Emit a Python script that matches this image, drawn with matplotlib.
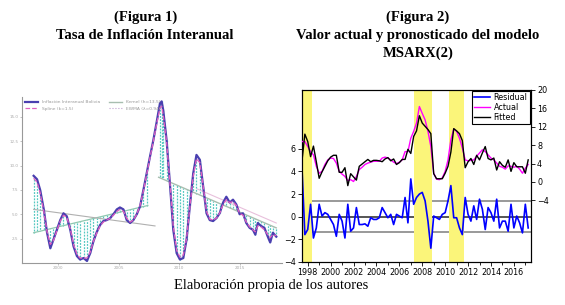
import numpy as np
import matplotlib.pyplot as plt

# ---- Figura 1: inflacion interanual (left panel) ----
yrs1 = [1997.96, 1998.24, 1998.5, 1998.8, 1999.07, 1999.34, 1999.6, 1999.88, 2000.16, 2000.43,
        2000.7, 2000.99, 2001.26, 2001.54, 2001.8, 2002.09, 2002.37, 2002.64, 2002.9, 2003.19,
        2003.46, 2003.73, 2004.0, 2004.29, 2004.56, 2004.84, 2005.1, 2005.39, 2005.66, 2005.94,
        2006.21, 2006.49, 2006.76, 2007.04, 2007.31, 2007.58, 2007.86, 2008.14, 2008.41, 2008.55,
        2008.68, 2008.96, 2009.23, 2009.51, 2009.79, 2010.06, 2010.34, 2010.61, 2010.88, 2011.16,
        2011.43, 2011.71, 2011.98, 2012.26, 2012.53, 2012.8, 2013.08, 2013.35, 2013.63, 2013.9,
        2014.18, 2014.45, 2014.73, 2015.0, 2015.28, 2015.55, 2015.83, 2016.1, 2016.3, 2016.5,
        2016.77, 2017.05, 2017.33, 2017.53, 2017.75, 2018.03]
inflacion = [8.95, 8.6, 7.5, 5.5, 3.1, 1.5, 2.4, 3.4, 4.4, 5.1, 4.8, 3.4, 1.7, 0.7, 0.35, 0.5, 0.2,
             1.0, 2.2, 3.2, 3.9, 4.3, 4.4, 4.6, 5.0, 5.5, 5.7, 5.5, 4.4, 4.1, 4.4, 5.0, 5.8, 7.5,
             9.2, 10.9, 12.6, 14.5, 16.4, 16.6, 15.7, 12.6, 8.2, 3.4, 1.0, 0.35, 0.5, 2.4, 5.8, 9.2,
             11.1, 10.6, 7.9, 5.1, 4.4, 4.3, 4.6, 5.1, 6.2, 6.8, 6.2, 6.5, 6.0, 5.0, 5.1, 4.1, 3.6,
             3.4, 2.9, 4.1, 3.8, 3.6, 2.7, 2.1, 3.1, 2.7]
spline = [8.7, 8.3, 7.2, 5.3, 3.2, 1.9, 2.3, 3.3, 4.3, 4.9, 4.7, 3.5, 1.9, 0.9, 0.5, 0.5, 0.5, 1.1,
          2.2, 3.1, 3.8, 4.2, 4.4, 4.6, 4.9, 5.3, 5.5, 5.3, 4.6, 4.2, 4.4, 5.0, 5.9, 7.4, 9.1, 10.8,
          12.5, 14.3, 15.9, 16.1, 15.2, 12.4, 8.3, 3.8, 1.3, 0.6, 0.8, 2.5, 5.7, 8.9, 10.7, 10.3,
          7.9, 5.3, 4.5, 4.4, 4.6, 5.1, 6.0, 6.5, 6.2, 6.3, 5.9, 5.1, 4.9, 4.2, 3.7, 3.4, 3.2, 3.8,
          3.7, 3.4, 2.9, 2.6, 2.9, 2.8]
# tramos de tendencia lineal
tend1_x, tend1_y = [1997.96, 2007.4], [3.1, 5.9]
tend2_x, tend2_y = [1997.96, 2008.0], [5.5, 3.8]
tend3_x, tend3_y = [2008.3, 2018.03], [8.8, 3.6]
tend4_x, tend4_y = [2011.5, 2018.03], [7.6, 4.1]
ticks1_x = [2000, 2005, 2010, 2015]
ticks1_y = [2.5, 5.0, 7.5, 10.0, 12.5, 15.0]

# ---- Figura 2: MSARX(2) actual / fitted / residual (right panel) ----
t0 = 1997.5
actual = [8.8, 8.8, 7.7, 6.6, 5.9, 3.4, 1.9, 2.3, 3.8, 4.8, 5.2, 5.1, 4.1, 2.3, 1.7, 1.2, 0.3, 0.5,
          0.1, 1.2, 2.7, 3.2, 3.8, 4.1, 4.3, 4.5, 4.5, 4.5, 5.2, 5.4, 5.2, 4.8, 4.3, 4.0, 4.3, 4.8,
          6.6, 6.6, 9.5, 11.0, 12.8, 16.4, 14.9, 13.5, 11.0, 7.7, 1.9, 0.6, 0.5, 0.9, 2.3, 4.8, 9.2,
          11.5, 11.0, 9.5, 7.4, 4.8, 4.6, 4.7, 4.8, 5.6, 6.3, 7.0, 6.6, 5.9, 5.2, 4.8, 4.1, 3.4,
          3.2, 2.8, 3.5, 3.4, 3.2, 3.4, 2.8, 1.9, 3.0, 3.8]
fitted = [4.6, 10.4, 8.8, 5.5, 7.8, 4.4, 0.8, 2.2, 3.4, 4.6, 5.4, 5.8, 5.8, 2.1, 2.1, 3.1, -0.8, 1.8,
          1.1, 0.4, 3.4, 3.9, 4.4, 4.9, 4.4, 4.7, 4.7, 4.6, 4.4, 5.0, 5.3, 4.6, 5.0, 3.8, 4.2, 4.9,
          4.9, 7.1, 6.2, 9.9, 11.1, 14.4, 12.8, 12.1, 11.4, 10.5, 1.8, 0.7, 0.7, 0.7, 1.9, 3.4, 6.5,
          11.6, 11.1, 10.5, 9.0, 3.1, 4.4, 5.1, 3.8, 5.8, 4.8, 6.3, 7.7, 5.1, 4.8, 5.2, 2.6, 4.4,
          3.6, 3.2, 4.8, 2.3, 4.2, 3.3, 3.3, 3.3, 1.9, 4.8]
residual = [4.24, -1.58, -1.13, 1.10, -1.88, -0.99, 1.10, 0.06, 0.36, 0.21, -0.24, -0.69, -1.73,
            0.21, -0.39, -1.88, 1.10, -1.28, -0.99, 0.81, -0.69, -0.69, -0.63, -0.84, -0.09, -0.24,
            -0.24, -0.09, 0.81, 0.36, -0.09, 0.21, -0.69, 0.21, 0.06, -0.09, 1.70, -0.54, 3.34, 1.10,
            1.70, 2.00, 2.15, 1.40, -0.40, -2.78, 0.06, -0.09, -0.24, 0.21, 0.36, 1.40, 2.75, -0.09,
            -0.09, -0.99, -1.58, 1.70, 0.21, -0.39, 0.96, -0.24, 1.55, 0.66, -1.13, 0.81, 0.36,
            -0.39, 1.55, -0.99, -0.39, -0.39, -1.28, 1.10, -0.99, 0.06, -0.54, -1.43, 1.10, -0.99]
recesion_ini = [1997.5, 2007.3, 2010.35]
recesion_fin = [1998.37, 2008.87, 2011.63]
banda = 1.35

fig = plt.figure(figsize=(5.65, 3.05), dpi=100)
serif = 'Liberation Serif'
tsize = 10.5

fig.text(0.257, 0.942, '(Figura 1)', ha='center', va='center', family=serif, weight='bold', fontsize=tsize)
fig.text(0.257, 0.882, 'Tasa de Inflación Interanual', ha='center', va='center', family=serif,
         weight='bold', fontsize=tsize)
fig.text(0.74, 0.942, '(Figura 2)', ha='center', va='center', family=serif, weight='bold', fontsize=tsize)
fig.text(0.74, 0.882, 'Valor actual y pronosticado del modelo', ha='center', va='center',
         family=serif, weight='bold', fontsize=tsize)
fig.text(0.74, 0.826, 'MSARX(2)', ha='center', va='center', family=serif, weight='bold', fontsize=tsize)
fig.text(0.48, 0.065, 'Elaboración propia de los autores', ha='center', va='center', family=serif,
         fontsize=tsize)

# ---------------- left panel ----------------
ax1 = fig.add_axes([0.039, 0.138, 0.46, 0.544])
x1 = np.array(yrs1)
y1 = np.array(inflacion)
base = np.where(x1 <= 2008.0, np.interp(x1, tend1_x, tend1_y), np.interp(x1, tend3_x, tend3_y))
base = np.where((x1 > 2007.4) & (x1 < 2008.3), y1, base)
ax1.vlines(x1, y1, base, colors='#55c8c0', lw=0.9, linestyles=(0, (1.5, 1)))
ax1.plot(tend1_x, tend1_y, color='#8fc8b0', lw=0.9)
ax1.plot(tend2_x, tend2_y, color='#b0b0b0', lw=0.8)
ax1.plot(tend4_x, tend4_y, color='#e8c0dc', lw=0.8)
ax1.plot(tend3_x, tend3_y, color='#a8beb0', lw=1.0, label='Kernel (h=13.5)')
ax1.plot(x1, y1, color='#4a3fb0', lw=1.6, label='Inflación Interanual Bolivia')
ax1.plot(x1, spline, color='#e060c0', lw=0.9, ls='--', label='Spline (k=1.5)')
ax1.plot([], [], color='#c0a0d0', lw=0.8, ls=':', label='EWMA (λ=0.94)')
h, l = ax1.get_legend_handles_labels()
order = [1, 2, 0, 3]
ax1.legend([h[i] for i in order], [l[i] for i in order], loc='upper left', ncol=2, frameon=False,
           fontsize=3.2, handlelength=3, borderaxespad=0.3, columnspacing=2, labelcolor='#999999')
ax1.set_xlim(1997.0, 2018.5)
ax1.set_ylim(0, 17.05)
ax1.set_xticks(ticks1_x)
ax1.set_yticks(ticks1_y)
ax1.tick_params(labelsize=3, colors='#aaaaaa', length=1.5, width=0.5, pad=1)
for s in ['top', 'right']:
    ax1.spines[s].set_visible(False)
for s in ['left', 'bottom']:
    ax1.spines[s].set_color('#999999')
    ax1.spines[s].set_linewidth(0.8)

# ---------------- right panel ----------------
ax2 = fig.add_axes([0.5345, 0.141, 0.405, 0.564])
x2 = t0 + 0.25 * np.arange(len(residual))
ax2.axhline(0, color='#555555', lw=1.4, zorder=1)
ax2.axhline(banda, color='#999999', lw=1.4, zorder=1)
ax2.axhline(-banda, color='#999999', lw=1.4, zorder=1)
for a, b in zip(recesion_ini, recesion_fin):
    ax2.axvspan(a, b, color='#fbf57a', lw=0, zorder=2)
lr, = ax2.plot(x2, residual, color='#0000ff', lw=1.2, zorder=3)
ax2.set_xlim(1997.5, 2017.48)
ax2.set_ylim(-4, 11.2)
ax2.set_yticks([-4, -2, 0, 2, 4, 6])
ax2.set_xticks(np.arange(1998, 2017, 2))
ax2.set_xticks(np.arange(1998, 2018, 1), minor=True)
ax2.tick_params(labelsize=5.8, length=3, width=0.6, pad=1.5)
ax2.tick_params(which='minor', length=2, width=0.6)

ax3 = ax2.twinx()
la, = ax3.plot(x2, actual, color='#ff00ff', lw=1.0, zorder=3)
lf, = ax3.plot(x2, fitted, color='#000000', lw=1.0, zorder=4)
ax3.set_ylim(-17.4, 20)
ax3.set_yticks([-4, 0, 4, 8, 12, 16, 20])
ax3.tick_params(labelsize=5.8, length=3, width=0.6, pad=1.5)
ax3.set_zorder(ax2.get_zorder() + 1)
ax3.patch.set_visible(False)
leg = ax3.legend([lr, la, lf], ['Residual', 'Actual', 'Fitted'], loc='upper right', fontsize=5.8,
                 fancybox=False, edgecolor='black', framealpha=1, handlelength=1.9,
                 borderpad=0.25, labelspacing=0.1, borderaxespad=0.15, handletextpad=0.5)
leg.get_frame().set_linewidth(0.8)
for ax in (ax2, ax3):
    for s in ax.spines.values():
        s.set_linewidth(0.8)

fig.savefig('out.png', dpi=100)
